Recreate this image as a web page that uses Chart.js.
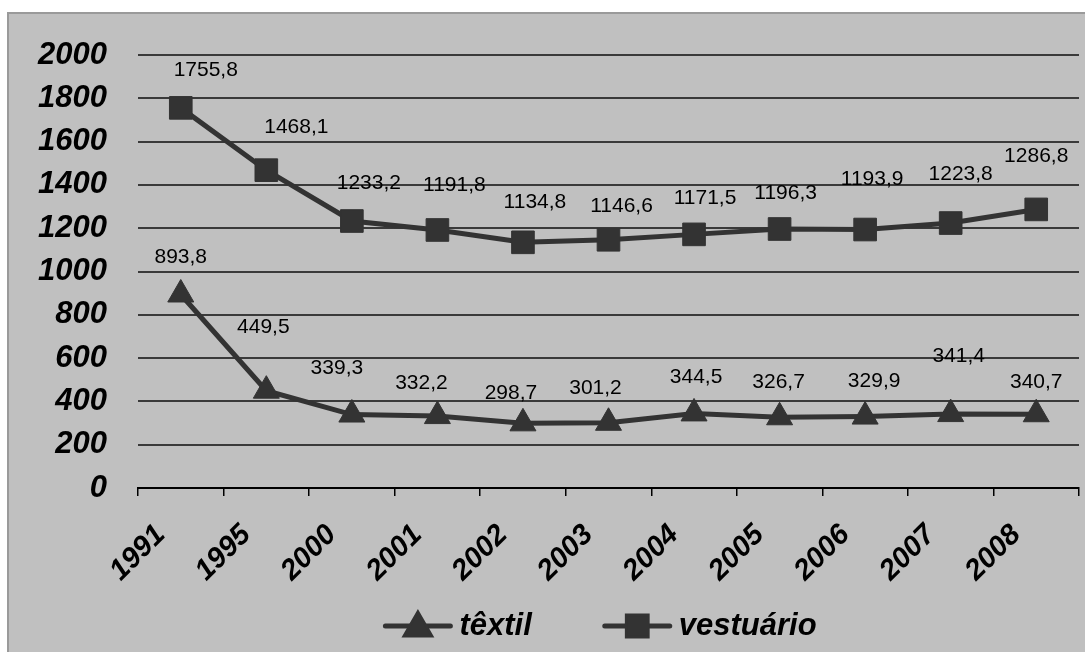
<!DOCTYPE html>
<html>
<head>
<meta charset="utf-8">
<script src="https://cdn.jsdelivr.net/npm/chart.js@4/dist/chart.umd.min.js"></script>
<style>
  html, body { margin: 0; padding: 0; background: #ffffff; }
  #wrap { width: 1085px; height: 652px; position: relative; }
</style>
</head>
<body>
<div id="wrap"><canvas id="c" width="1085" height="652"></canvas></div>
<script>
const categories = ['1991', '1995', '2000', '2001', '2002', '2003', '2004', '2005', '2006', '2007', '2008'];
const textilValues = [893.8, 449.5, 339.3, 332.2, 298.7, 301.2, 344.5, 326.7, 329.9, 341.4, 340.7];
const vestuarioValues = [1755.8, 1468.1, 1233.2, 1191.8, 1134.8, 1146.6, 1171.5, 1196.3, 1193.9, 1223.8, 1286.8];
const seriesNames = ['têxtil', 'vestuário'];
const yTicks = [0, 200, 400, 600, 800, 1000, 1200, 1400, 1600, 1800, 2000];

// label placement offsets (style only, in px relative to the point)
const labelOffsets = [
  { dx: [0, -3, -15, -16, -12, -13, 2, -1, 9, 8, 0], dy: [-37, -63, -46, -33, -30, -35, -36, -35, -35, -58, -32] },
  { dx: [25, 30, 17, 17, 12, 13, 11, 6, 7, 10, 0], dy: [-38, -43, -38, -45, -40, -34, -36, -36, -50, -49, -53] }
];

const LINE = '#333333';
const BG = '#c0c0c0';

const frame = {
  id: 'frame',
  beforeDraw(chart) {
    const ctx = chart.ctx;
    ctx.save();
    ctx.fillStyle = '#ffffff';
    ctx.fillRect(0, 0, chart.width, chart.height);
    ctx.fillStyle = BG;
    ctx.fillRect(7, 12, chart.width - 7, chart.height - 12);
    ctx.strokeStyle = '#9a9a9a';
    ctx.lineWidth = 2;
    ctx.strokeRect(8, 13, chart.width + 10, chart.height + 10);
    ctx.restore();
  }
};

const valueLabels = {
  id: 'valueLabels',
  afterDatasetsDraw(chart) {
    const ctx = chart.ctx;
    ctx.save();
    ctx.font = '21px "Liberation Sans", Arial, sans-serif';
    ctx.fillStyle = '#000000';
    ctx.textAlign = 'center';
    ctx.textBaseline = 'middle';
    chart.data.datasets.forEach((ds, di) => {
      const meta = chart.getDatasetMeta(di);
      meta.data.forEach((pt, i) => {
        const v = ds.data[i];
        const txt = v.toFixed(1).replace('.', ',');
        const off = labelOffsets[di];
        ctx.fillText(txt, pt.x + off.dx[i], pt.y + off.dy[i]);
      });
    });
    ctx.restore();
  }
};

const customLegend = {
  id: 'customLegend',
  afterDraw(chart) {
    const ctx = chart.ctx;
    ctx.save();
    ctx.font = 'italic bold 31px "Liberation Sans", Arial, sans-serif';
    ctx.textBaseline = 'middle';
    ctx.textAlign = 'left';
    const y = 626;
    const lineLen = 65, gap = 9, itemGap = 73;
    const items = chart.data.datasets.map(ds => ({ ds, w: ctx.measureText(ds.label).width }));
    const total = items.reduce((s, it) => s + lineLen + gap + it.w, 0) + itemGap * (items.length - 1);
    let x = 601 - total / 2;
    items.forEach(it => {
      ctx.strokeStyle = LINE;
      ctx.lineWidth = 5;
      ctx.lineCap = 'round';
      ctx.beginPath();
      ctx.moveTo(x, y);
      ctx.lineTo(x + lineLen, y);
      ctx.stroke();
      Chart.helpers.drawPoint(ctx, {
        pointStyle: it.ds.pointStyle,
        radius: 14,
        borderWidth: 1
      }, x + lineLen / 2, it.ds.pointStyle === 'triangle' ? y + 2 : y);
      ctx.fillStyle = LINE;
      ctx.fill();
      ctx.fillStyle = '#000000';
      ctx.fillText(it.ds.label, x + lineLen + gap, y);
      x += lineLen + gap + it.w + itemGap;
    });
    ctx.restore();
  }
};

new Chart(document.getElementById('c'), {
  type: 'line',
  data: {
    labels: categories,
    datasets: [
      {
        label: seriesNames[0],
        data: textilValues,
        borderColor: LINE,
        backgroundColor: LINE,
        borderWidth: 5,
        pointStyle: 'triangle',
        pointRadius: 15,
        pointHoverRadius: 15,
        pointBorderWidth: 1,
        pointBackgroundColor: LINE,
        pointBorderColor: LINE,
        tension: 0
      },
      {
        label: seriesNames[1],
        data: vestuarioValues,
        borderColor: LINE,
        backgroundColor: LINE,
        borderWidth: 5,
        pointStyle: 'rect',
        pointRadius: 16,
        pointHoverRadius: 16,
        pointBorderWidth: 1,
        pointBackgroundColor: LINE,
        pointBorderColor: LINE,
        tension: 0
      }
    ]
  },
  options: {
    responsive: false,
    animation: false,
    layout: { autoPadding: false, padding: { top: 55, right: 6, left: 0, bottom: 0 } },
    plugins: {
      legend: { display: false },
      tooltip: { enabled: false }
    },
    scales: {
      x: {
        offset: true,
        grid: {
          offset: true,
          drawOnChartArea: false,
          drawTicks: true,
          tickLength: 8,
          color: '#000000',
          lineWidth: 1.5
        },
        border: { display: true, color: '#000000', width: 2 },
        ticks: {
          color: '#000000',
          font: { family: '"Liberation Sans", Arial, sans-serif', size: 29, style: 'italic', weight: 'bold' },
          minRotation: 45,
          maxRotation: 45,
          padding: 22,
          labelOffset: -20,
          autoSkip: false
        },
        afterFit(scale) {
          scale.height = 652 - 488;
          scale.paddingLeft = 0;
          scale.paddingRight = 0;
        }
      },
      y: {
        min: 0,
        max: 2000,
        afterBuildTicks(scale) { scale.ticks = yTicks.map(v => ({ value: v })); },
        grid: {
          drawTicks: false,
          color: (c) => c.tick && c.tick.value === 0 ? 'rgba(0,0,0,0)' : '#3a3a3a',
          lineWidth: 2
        },
        border: { display: false },
        ticks: {
          color: '#000000',
          font: { family: '"Liberation Sans", Arial, sans-serif', size: 31, style: 'italic', weight: 'bold' },
          padding: 31,
          callback: (v) => String(v)
        },
        afterFit(scale) {
          scale.width = 138;
          scale.paddingTop = 0;
          scale.paddingBottom = 0;
        }
      }
    }
  },
  plugins: [frame, valueLabels, customLegend]
});
</script>
</body>
</html>
